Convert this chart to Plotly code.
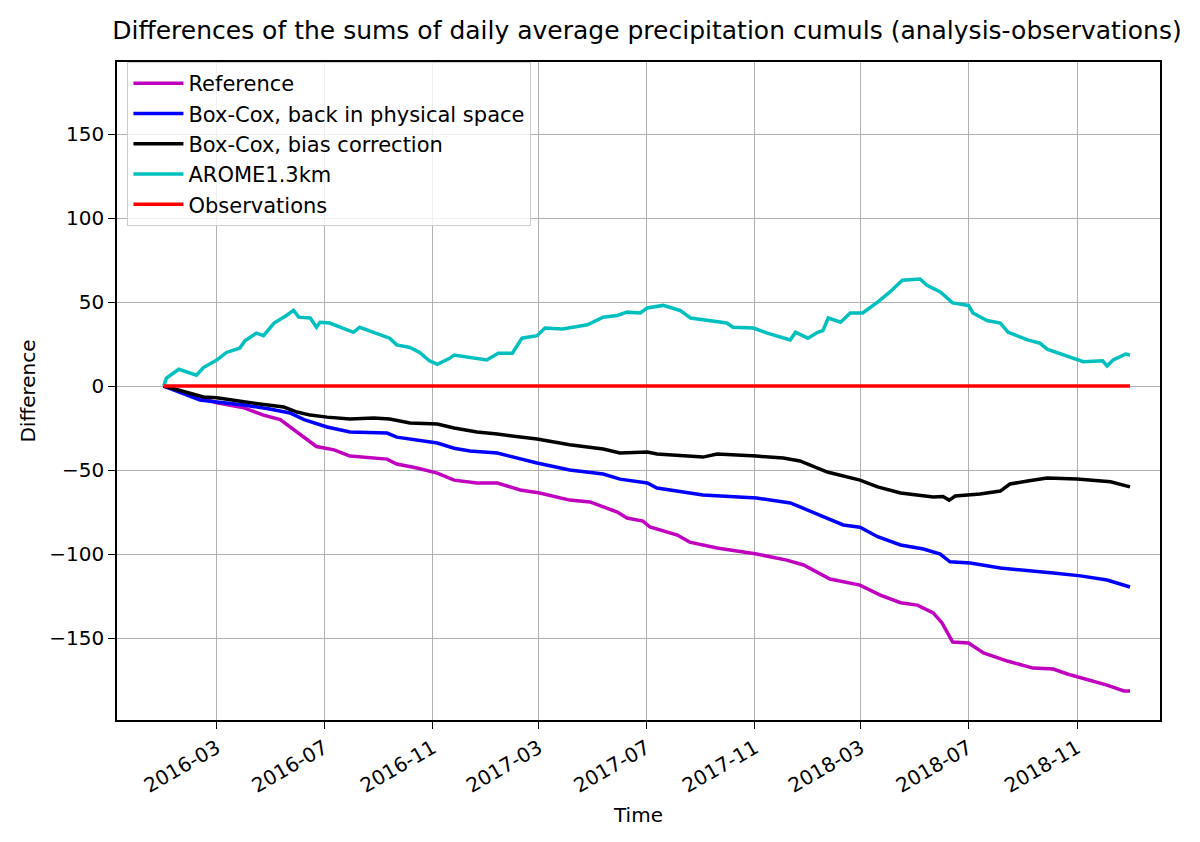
import pandas as pd
import plotly.graph_objects as go

# Days since 2016-01-01 and value
START = pd.Timestamp("2016-01-01")

ref_days = [0, 41, 60, 91, 113, 132, 147, 159, 173, 193, 211, 253, 264, 287, 310, 329, 355,
            378, 404, 426, 460, 483, 514, 525, 543, 551, 582, 596, 627, 672, 706, 725, 755,
            789, 812, 835, 854, 872, 882, 894, 912, 929, 956, 985, 1008, 1024, 1050, 1069,
            1088, 1095]
ref_vals = [0, -7, -10, -13, -17.3, -20, -26, -31, -36, -38, -41.7, -43.5, -46.4, -48.8,
            -51.8, -56, -57.7, -57.7, -61.9, -63.7, -67.9, -69, -75, -78.6, -80.4, -83.9,
            -88.7, -92.9, -96.4, -100, -103.6, -106.5, -114.9, -118.5, -124.4, -129, -130.4,
            -135, -141, -152.4, -153, -158.9, -163.7, -167.9, -168.5, -171.4, -175, -178,
            -181.5, -181.5]

bc_days = [0, 41, 60, 91, 120, 143, 159, 185, 211, 253, 264, 287, 310, 329, 347, 378, 423,
           460, 498, 517, 548, 559, 611, 672, 710, 721, 744, 770, 789, 809, 835, 861, 880,
           891, 914, 948, 1008, 1039, 1069, 1095]
bc_vals = [0, -8.3, -9.5, -11.3, -13.7, -16, -20, -24.4, -27.4, -28, -30.4, -32, -33.9, -37,
           -38.7, -39.9, -45.8, -50, -52.4, -55.4, -57.7, -60.7, -64.9, -66.7, -69.6, -72,
           -76.8, -82.7, -84, -89.7, -94.6, -97, -100, -104.6, -105.3, -108.3, -111.3, -113,
           -115.5, -119.6]

bias_days = [0, 26, 45, 60, 91, 109, 136, 151, 166, 185, 211, 238, 256, 279, 310, 329, 355,
             378, 423, 460, 498, 517, 548, 559, 611, 627, 672, 702, 721, 752, 789, 809, 835,
             872, 883, 890, 897, 925, 948, 959, 979, 1001, 1035, 1073, 1095]
bias_vals = [0, -3.5, -6.5, -7, -9.5, -10.7, -12.5, -15.5, -17.3, -18.5, -19.6, -19, -19.6,
             -22, -22.6, -25, -27.4, -28.6, -31.5, -35, -37.5, -39.9, -39.3, -40.5, -42.3,
             -40.5, -41.7, -42.9, -44.6, -51.2, -56, -60, -63.7, -66, -65.8, -67.9, -65.5,
             -64.3, -62.5, -58.3, -56.5, -54.8, -55.4, -57, -60]

arome_days = [0, 3, 17, 28, 37, 45, 60, 71, 86, 92, 105, 113, 125, 139, 147, 153, 166, 173,
              177, 188, 204, 215, 222, 238, 256, 264, 279, 290, 301, 310, 324, 329, 347, 366,
              379, 395, 406, 423, 432, 452, 480, 498, 514, 525, 540, 548, 566, 585, 597, 619,
              638, 645, 668, 684, 695, 710, 716, 730, 741, 747, 753, 767, 778, 792, 809, 823,
              837, 857, 865, 880, 894, 912, 917, 933, 948, 957, 979, 993, 1001, 1014, 1031,
              1042, 1064, 1069, 1076, 1090, 1095]
arome_vals = [0, 4.7, 10, 8, 6.5, 11, 15.5, 20, 22.5, 27, 31.5, 30, 37.5, 42, 45, 41, 40.5,
              35, 38, 37.5, 34.5, 32, 35, 32, 28.5, 24.5, 23, 20, 15, 13, 16.5, 18.5, 17, 15.5,
              19.5, 19.5, 28.5, 30, 34.5, 34, 36.5, 41, 42, 44, 43.5, 46.5, 48, 45, 40.5, 39,
              37.5, 35, 34.5, 31.5, 30, 27.5, 32, 28.5, 32, 33, 40.5, 38, 43.5, 43.5, 50, 56,
              63, 63.7, 60, 56, 49.5, 48, 43.5, 39, 37.5, 32, 27.5, 25.5, 22, 19.5, 16.5, 14.5,
              15, 12, 15.5, 19, 18.5]

obs_days = [0, 1095]
obs_vals = [0, 0]

x_ticks = ["2016-03-01", "2016-07-01", "2016-11-01", "2017-03-01", "2017-07-01",
           "2017-11-01", "2018-03-01", "2018-07-01", "2018-11-01"]
y_ticks = [-150, -100, -50, 0, 50, 100, 150]


def to_dates(days):
    return START + pd.to_timedelta(days, unit="D")


series = [
    ("Reference", ref_days, ref_vals, "#bf00bf"),
    ("Box-Cox, back in physical space", bc_days, bc_vals, "#0000ff"),
    ("Box-Cox, bias correction", bias_days, bias_vals, "#000000"),
    ("AROME1.3km", arome_days, arome_vals, "#00bfbf"),
    ("Observations", obs_days, obs_vals, "#ff0000"),
]

fig = go.Figure()
for name, days, vals, color in series:
    fig.add_trace(go.Scatter(x=to_dates(days), y=vals, mode="lines", name=name,
                             line=dict(color=color, width=3.5)))

axis_style = dict(showline=True, linecolor="black", linewidth=1.5, mirror=True,
                  showgrid=True, gridcolor="#b0b0b0", gridwidth=1.3,
                  ticks="outside", ticklen=7, tickwidth=1.3, tickcolor="black",
                  zeroline=False, tickfont=dict(size=20, color="black"))

fig.update_xaxes(range=["2015-11-09", "2019-02-03"], tickvals=x_ticks,
                 ticktext=[t[:7] for t in x_ticks], tickangle=-30,
                 title=dict(text="Time", font=dict(size=20, color="black"), standoff=11),
                 **axis_style)
fig.update_yaxes(range=[-198.8, 192.9], tickvals=y_ticks,
                 title=dict(text="Difference", font=dict(size=20, color="black"), standoff=8),
                 **axis_style)

fig.update_layout(
    width=1200, height=842,
    margin=dict(l=109, r=48, t=54, b=130),
    paper_bgcolor="white", plot_bgcolor="white",
    font=dict(family="DejaVu Sans", color="black"),
    title=dict(text="Differences of the sums of daily average precipitation cumuls (analysis-observations)",
               xref="container", x=0.5325, xanchor="center", y=0.974, yanchor="middle",
               font=dict(size=25, color="black")),
    legend=dict(x=0.01, y=1.0, xanchor="left", yanchor="top", itemwidth=50,
                bgcolor="rgba(255,255,255,0.8)", bordercolor="#cccccc", borderwidth=1,
                font=dict(size=21, color="black")),
    showlegend=True,
)

fig.write_html("out.html")
